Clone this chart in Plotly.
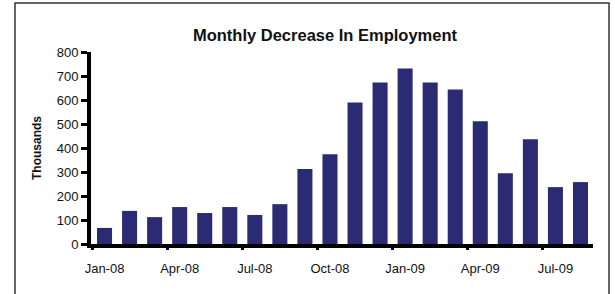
import plotly.graph_objects as go

months = ["Jan-08", "Feb-08", "Mar-08", "Apr-08", "May-08", "Jun-08", "Jul-08", "Aug-08",
          "Sep-08", "Oct-08", "Nov-08", "Dec-08", "Jan-09", "Feb-09", "Mar-09", "Apr-09",
          "May-09", "Jun-09", "Jul-09", "Aug-09"]
decrease = [67, 138, 112, 154, 129, 154, 121, 166, 312, 374, 590, 673, 731, 673, 644, 511,
            295, 436, 237, 258]
y_ticks = [0, 100, 200, 300, 400, 500, 600, 700, 800]

idx = list(range(len(months)))
label_idx = idx[::3]
label_txt = [months[i] for i in label_idx]
tick_bounds = [i - 0.5 for i in label_idx]

W, H = 615, 294
ML, MR, MT, MB = 91, 22, 52, 50
pw = W - ML - MR
ph = H - MT - MB

fig = go.Figure()
fig.add_trace(go.Bar(x=idx, y=decrease, marker=dict(color="#2B2B73", line=dict(width=0)),
                     width=0.6, hoverinfo="skip"))
# invisible trace for tick-mark axis
fig.add_trace(go.Scatter(x=[0], y=[0], xaxis="x2", mode="markers",
                         marker=dict(opacity=0), hoverinfo="skip", showlegend=False))

font = "Liberation Sans, Arial, sans-serif"
xr = [-0.54, 19.5]
fig.update_layout(
    width=W, height=H,
    margin=dict(l=ML, r=MR, t=MT, b=MB, autoexpand=False),
    paper_bgcolor="white", plot_bgcolor="white",
    showlegend=False,
    font=dict(family=font, size=12, color="#111"),
    title=dict(text="<b>Monthly Decrease In Employment</b>", x=325 / W, xref="container",
               xanchor="center", y=1 - 35 / H, yref="container", yanchor="middle",
               font=dict(size=16.5, family=font, color="#111")),
    xaxis=dict(range=xr, tickmode="array", tickvals=label_idx, ticktext=label_txt,
               ticks="outside", ticklen=9, tickcolor="rgba(0,0,0,0)",
               showline=True, linecolor="black", linewidth=4, showgrid=False,
               zeroline=False, tickfont=dict(size=13, family=font, color="#111")),
    xaxis2=dict(range=xr, overlaying="x", tickmode="array", tickvals=tick_bounds,
                ticktext=[""] * len(tick_bounds), ticks="outside", ticklen=5, tickwidth=3,
                tickcolor="black", showline=False, showgrid=False, zeroline=False,
                side="bottom", anchor="y"),
    yaxis=dict(range=[0, 800], tickmode="array", tickvals=y_ticks,
               ticks="outside", ticklen=6, tickwidth=3, tickcolor="black",
               showline=True, linecolor="black", linewidth=4, showgrid=False,
               zeroline=False, tickfont=dict(size=13, family=font, color="#111"),
               title=dict(text="<b>Thousands</b>", standoff=13,
                          font=dict(size=12, family=font, color="#111"))),
    bargap=0.4,
)

# outer frame
fig.add_shape(type="rect", xref="paper", yref="paper",
              x0=(15 - ML) / pw, x1=(609 - ML) / pw,
              y0=(H - MB - 310) / ph, y1=(H - MB - 3) / ph,
              line=dict(color="#333", width=1.5), fillcolor="rgba(0,0,0,0)", layer="below")

fig.write_html("out.html", config={"displayModeBar": False},
               post_script="document.body.style.margin='0';document.body.style.overflow='hidden';")
